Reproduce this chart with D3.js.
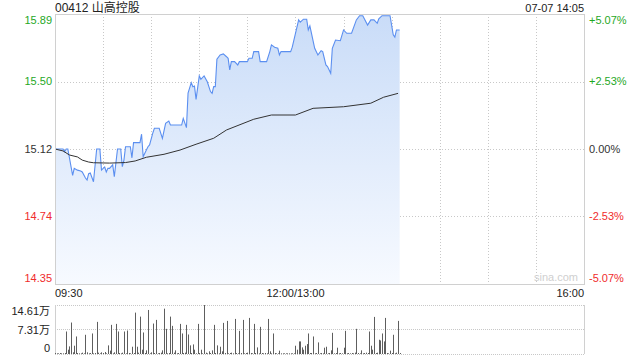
<!DOCTYPE html>
<html>
<head>
<meta charset="utf-8">
<script src="https://cdn.jsdelivr.net/npm/d3@7"></script>
<style>
  body { margin: 0; background: #fff; }
  svg { display: block; font-family: "Liberation Sans", Arial, sans-serif; }
</style>
</head>
<body>
<svg width="640" height="360"></svg>
<script>
// chart values
var title = "00412 山高控股",
    stamp = "07-07 14:05",
    prevClose = 15.12,
    maxPct = 0.0507;

var priceTicks = ["15.89", "15.50", "15.12", "14.74", "14.35"],
    pctTicks = ["+5.07%", "+2.53%", "0.00%", "-2.53%", "-5.07%"],
    timeTicks = [[0, "09:30"], [150, "12:00/13:00"], [330, "16:00"]],
    volTicks = [[14.61, "14.61万"], [7.31, "7.31万"], [0, "0"]];

// price line: minute since 09:30 (trading minutes), price
var priceMinutes = [0,5,6,7,8,10,11,12,14,16,17,19,20,21,22,24,26,28,29,31,32,33,34,36,37,39,41,42,43,44,47,48,49,53,54,55,57,58,59,61,62,65,67,69,71,72,79,80,82,83,85,86,87,88,90,91,93,95,97,98,99,100,101,103,105,107,108,109,110,112,114,115,120,121,123,124,127,128,132,134,135,137,139,140,141,147,148,152,153,155,157,158,159,162,164,166,167,169,170,172,173,175,178,180,182,185,188,190,192,195,197,199,201,202,204,209,211,212,213,215];
var priceValues = [15.12,15.12,15.105,15.12,15.12,15.02,14.97,15.01,15.00,14.995,14.99,14.955,14.944,14.98,14.984,14.934,15.12,15.12,15.00,15.018,14.99,15.01,15.01,15.03,14.963,15.12,15.12,15.02,15.057,15.133,15.133,15.07,15.156,15.156,15.204,15.076,15.114,15.133,15.143,15.21,15.238,15.238,15.18,15.266,15.279,15.256,15.256,15.294,15.241,15.438,15.497,15.474,15.478,15.402,15.535,15.516,15.535,15.502,15.446,15.436,15.474,15.474,15.63,15.654,15.66,15.644,15.635,15.569,15.616,15.616,15.597,15.616,15.616,15.635,15.635,15.673,15.673,15.616,15.616,15.673,15.711,15.698,15.692,15.654,15.673,15.673,15.698,15.853,15.84,15.857,15.857,15.796,15.819,15.692,15.654,15.678,15.673,15.597,15.588,15.55,15.692,15.739,15.735,15.796,15.777,15.777,15.853,15.877,15.877,15.824,15.853,15.853,15.834,15.859,15.877,15.877,15.768,15.755,15.796,15.796];

// average price line
var avgMinutes = [0,5,9,14,17,21,24,34,44,50,57,68,78,88,99,107,124,135,150,161,180,197,205,214];
var avgValues = [15.12,15.109,15.086,15.075,15.057,15.046,15.042,15.04,15.043,15.052,15.073,15.09,15.114,15.147,15.181,15.228,15.289,15.313,15.313,15.351,15.36,15.38,15.414,15.436];

// volume per minute, in 万
var volumes = [
  0.3,0.2,0.2,0.3,0.2,0.2,0.3,6.71,1.28,2.27,
  9.38,0.5,2.47,5.23,0.3,0.2,0.2,0.4,0.2,5.73,
  0.5,0.2,0.3,6.12,0.2,0.3,9.58,0.4,0.2,0.5,
  0.3,0.6,0.2,2.57,1.0,8.69,0.2,0.5,8.98,6.71,
  0.3,0.2,0.4,6.71,0.2,7.0,0.3,0.2,2.17,0.3,
  12.34,2.17,0.4,11.15,1.28,6.42,0.3,1.09,13.13,0.2,
  0.5,9.08,0.3,10.17,0.2,0.3,0.4,1.09,13.52,7.5,
  0.2,0.3,11.15,8.39,0.4,1.09,0.2,0.3,8.98,6.12,
  0.3,0.4,8.69,5.82,2.57,0.3,2.86,1.28,0.2,8.98,
  0.3,1.28,0.2,14.61,0.4,0.2,0.8,0.3,1.09,8.69,
  0.3,2.57,0.2,2.17,0.8,9.28,0.3,9.87,0.2,0.3,
  0.4,0.2,10.46,0.3,0.2,6.91,0.3,10.17,0.2,0.3,
  0.4,10.76,0.3,0.2,8.98,0.3,1.97,0.2,8.1,0.3,
  0.2,0.3,0.2,10.46,0.8,0.2,6.12,0.3,0.2,0.2,
  1.0,0.2,0.2,0.2,0.2,0.2,0.2,0.2,0.2,0.2,
  2.47,1.28,3.75,3.75,1.97,1.28,2.47,2.96,6.12,0.3,
  0.3,5.23,0.2,0.3,3.46,0.2,0.3,0.2,1.88,2.17,
  0.2,0.3,1.09,6.32,0.2,0.3,1.88,0.2,0.3,0.2,
  1.88,6.91,0.2,0.3,0.2,0.3,0.2,0.4,7.5,0.3,
  0.2,1.09,0.2,0.3,0.4,0.3,6.71,2.47,1.28,11.06,
  0.3,0.4,4.25,4.05,6.12,3.75,10.76,0.3,0.2,1.0,
  0.3,5.73,0.2,0.4,9.87,0.3
];

// colours
var colorUp = "#1fa81f",
    colorDown = "#f02c2c",
    colorFlat = "#333",
    colorLine = "#5b8ff0",
    colorAvg = "#333",
    colorGrid = "#c8c8c8",
    colorFrame = "#d0d0d0",
    colorBar = "#5e5e5e";

var svg = d3.select("svg");

var plotLeft = 55, plotRight = 584,
    plotTop = 14, plotBottom = 284,
    volTop = 305, volBottom = 354;

var x = d3.scaleLinear().domain([0, 330]).range([plotLeft, plotRight]);
var y = d3.scaleLinear()
    .domain([prevClose * (1 - maxPct), prevClose * (1 + maxPct)])
    .range([plotBottom, plotTop]);
var yv = d3.scaleLinear().domain([0, 14.61]).range([volBottom, volTop]);

// gradient for the area
var grad = svg.append("defs").append("linearGradient")
    .attr("id", "fillGrad")
    .attr("gradientUnits", "userSpaceOnUse")
    .attr("x1", 0).attr("y1", plotTop).attr("x2", 0).attr("y2", plotBottom);
grad.append("stop").attr("offset", "0%").attr("stop-color", "#c9dcf8");
grad.append("stop").attr("offset", "100%").attr("stop-color", "#f7faff");

// title + time stamp
svg.append("text").attr("x", plotLeft).attr("y", 12)
    .attr("font-size", 12).attr("fill", "#222")
    .style("font-family", "'Liberation Sans', 'Noto Sans CJK SC', sans-serif")
    .text(title);
svg.append("text").attr("x", plotRight).attr("y", 12)
    .attr("font-size", 11).attr("fill", "#222").attr("text-anchor", "end")
    .text(stamp);

// grid lines
var levels = d3.range(5).map(function(i) { return prevClose * (1 + maxPct - i * maxPct / 2); });
svg.append("g").selectAll("line")
    .data(levels.slice(1, 4))
    .enter().append("line")
    .attr("x1", plotLeft).attr("x2", plotRight)
    .attr("y1", function(d) { return Math.round(y(d)) + 0.5; })
    .attr("y2", function(d) { return Math.round(y(d)) + 0.5; })
    .attr("stroke", colorGrid).attr("stroke-dasharray", "1,2");

svg.append("g").selectAll("line")
    .data(d3.range(30, 330, 30))
    .enter().append("line")
    .attr("x1", function(d) { return Math.round(x(d)) + 0.5; })
    .attr("x2", function(d) { return Math.round(x(d)) + 0.5; })
    .attr("y1", plotTop).attr("y2", plotBottom)
    .attr("stroke", colorGrid).attr("stroke-dasharray", "1,2");

// area + lines
var pts = priceMinutes.map(function(m, i) { return [m, priceValues[i]]; });
var area = d3.area()
    .x(function(d) { return x(d[0]); })
    .y0(plotBottom)
    .y1(function(d) { return y(d[1]); });
svg.append("path").datum(pts)
    .attr("d", area).attr("fill", "url(#fillGrad)");

var line = d3.line()
    .x(function(d) { return x(d[0]); })
    .y(function(d) { return y(d[1]); });
svg.append("path").datum(pts)
    .attr("d", line).attr("fill", "none")
    .attr("stroke", colorLine).attr("stroke-width", 1.1);

var avgPts = avgMinutes.map(function(m, i) { return [m, avgValues[i]]; });
svg.append("path").datum(avgPts)
    .attr("d", line).attr("fill", "none")
    .attr("stroke", colorAvg).attr("stroke-width", 1);

// frame
svg.append("rect")
    .attr("x", plotLeft + 0.5).attr("y", plotTop + 0.5)
    .attr("width", plotRight - plotLeft).attr("height", plotBottom - plotTop)
    .attr("fill", "none").attr("stroke", colorFrame);

// left price labels, right percent labels
var labelY = [plotTop + 6, y(levels[1]), y(levels[2]), y(levels[3]), plotBottom - 6];
function tickColor(i) { return i < 2 ? colorUp : (i > 2 ? colorDown : colorFlat); }
svg.append("g").selectAll("text")
    .data(priceTicks)
    .enter().append("text")
    .attr("x", plotLeft - 3).attr("y", function(d, i) { return labelY[i]; })
    .attr("dy", "0.35em").attr("text-anchor", "end").attr("font-size", 11)
    .attr("fill", function(d, i) { return tickColor(i); })
    .text(function(d) { return d; });
svg.append("g").selectAll("text")
    .data(pctTicks)
    .enter().append("text")
    .attr("x", plotRight + 5).attr("y", function(d, i) { return labelY[i]; })
    .attr("dy", "0.35em").attr("font-size", 11)
    .attr("fill", function(d, i) { return tickColor(i); })
    .text(function(d) { return d; });

// watermark
svg.append("text").attr("x", 578).attr("y", 281)
    .attr("text-anchor", "end").attr("font-size", 11).attr("fill", "#cfcfcf")
    .text("sina.com");

// time labels
svg.append("g").selectAll("text")
    .data(timeTicks)
    .enter().append("text")
    .attr("x", function(d) { return x(d[0]); }).attr("y", 297)
    .attr("text-anchor", function(d, i) { return i == 0 ? "start" : (i == 1 ? "middle" : "end"); })
    .attr("font-size", 11).attr("fill", "#222")
    .text(function(d) { return d[1]; });

// volume panel
svg.append("g").selectAll("line")
    .data(volTicks)
    .enter().append("line")
    .attr("x1", plotLeft).attr("x2", plotRight)
    .attr("y1", function(d) { return Math.round(yv(d[0])) + 0.5; })
    .attr("y2", function(d) { return Math.round(yv(d[0])) + 0.5; })
    .attr("stroke", colorGrid).attr("stroke-dasharray", "1,1");
svg.append("line").attr("x1", plotLeft + 0.5).attr("x2", plotLeft + 0.5)
    .attr("y1", volTop).attr("y2", volBottom).attr("stroke", colorFrame);
svg.append("line").attr("x1", plotRight + 0.5).attr("x2", plotRight + 0.5)
    .attr("y1", volTop).attr("y2", volBottom).attr("stroke", colorFrame);

svg.append("g").selectAll("rect")
    .data(volumes)
    .enter().append("rect")
    .attr("x", function(d, i) { return Math.round(x(i)); })
    .attr("width", 1)
    .attr("y", function(d) { return yv(d); })
    .attr("height", function(d) { return volBottom - yv(d); })
    .attr("fill", colorBar);

svg.append("g").selectAll("text")
    .data(volTicks)
    .enter().append("text")
    .attr("x", 50).attr("y", function(d, i) { return [311, 330, 348][i]; })
    .attr("dy", "0.35em").attr("text-anchor", "end").attr("font-size", 11)
    .attr("fill", "#222")
    .style("font-family", "'Liberation Sans', 'Noto Sans CJK SC', sans-serif")
    .text(function(d) { return d[1]; });
</script>
</body>
</html>
